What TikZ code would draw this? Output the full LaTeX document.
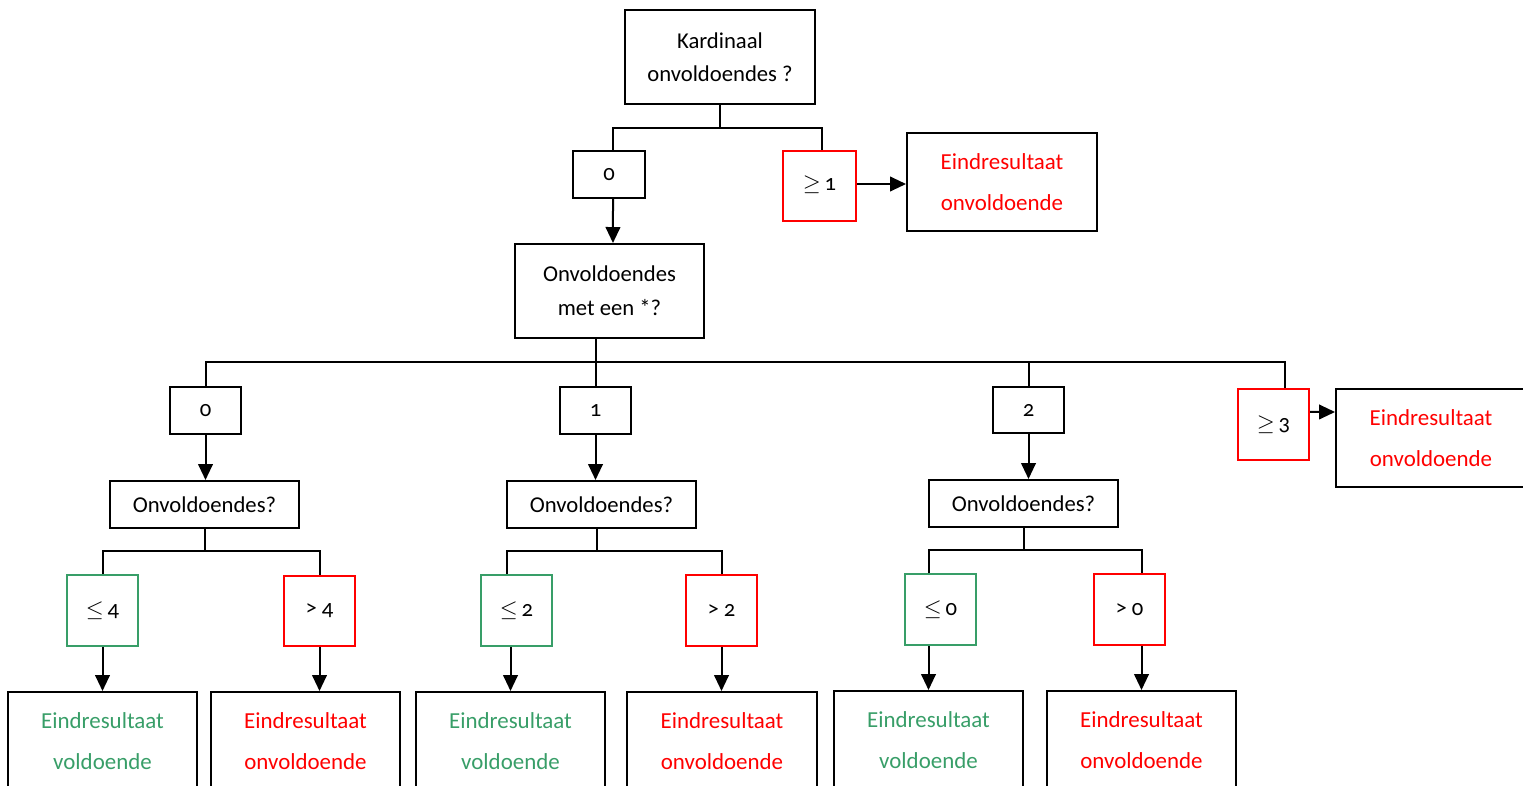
\documentclass[tikz,border=0pt]{standalone}
\usepackage{fontspec}
\setmainfont{Carlito}[Numbers=OldStyle]
\usetikzlibrary{arrows.meta,calc}
\definecolor{okgreen}{RGB}{56,158,104}
\definecolor{badred}{RGB}{255,0,0}
\begin{document}
\begin{tikzpicture}[x=0.75pt,y=-0.75pt,
  sz/.style 2 args={minimum width=#1*0.75pt,minimum height=#2*0.75pt},
  box/.style={draw=black,line width=1.5pt,inner sep=0pt,align=center,
    font=\fontsize{17}{25}\selectfont},
  ebox/.style={box,font=\fontsize{17.2}{30.75}\selectfont},
  rbox/.style={box,draw=badred},
  gbox/.style={box,draw=okgreen},
  ln/.style={line width=1.5pt,draw=black},
  arr/.style={ln,-{Triangle[length=12pt,width=11pt]}}]
\clip (0,0) rectangle (1523,785);
% row 1
\node[box,sz={190}{94}] (K) at (720,57) {Kardinaal\\onvoldoendes ?};
\node[box,sz={72}{47}] (Z0) at (609,174.5) {0};
\node[rbox,sz={73}{70}] (G1) at (819.5,186) {\raisebox{4pt}{$\geq$\,1}};
\node[ebox,sz={190}{98},text=badred] (E1) at (1002,182) {Eindresultaat\\onvoldoende};
% row 2
\node[box,sz={189}{94},font=\fontsize{17}{25.5}\selectfont] (M) at (609.5,291) {Onvoldoendes\\met een *?};
\node[box,sz={71}{47}] (A0) at (205.5,410.5) {0};
\node[box,sz={71}{47}] (A1) at (595.5,410.5) {1};
\node[box,sz={71}{46}] (A2) at (1028.5,410) {2};
\node[rbox,sz={71}{71}] (A3) at (1273.5,424.5) {$\geq$\,3};
\node[ebox,sz={190}{98},text=badred] (E3) at (1431,438) {Eindresultaat\\onvoldoende};
% row 3
\node[box,sz={189}{47}] (O1) at (204.5,504.5) {Onvoldoendes?};
\node[box,sz={189}{47}] (O2) at (601.5,504.5) {Onvoldoendes?};
\node[box,sz={189}{47}] (O3) at (1023.5,503.5) {Onvoldoendes?};
% row 4
\node[gbox,sz={71}{71}] (B1) at (102.5,610.5) {$\leq$\,4};
\node[rbox,sz={71}{70}] (B2) at (319.5,611) {> 4};
\node[gbox,sz={71}{71}] (B3) at (516.5,610.5) {$\leq$\,2};
\node[rbox,sz={71}{71}] (B4) at (721.5,610.5) {> 2};
\node[gbox,sz={71}{71}] (B5) at (940.5,609.5) {$\leq$\,0};
\node[rbox,sz={71}{71}] (B6) at (1129.5,609.5) {> 0};
% row 5
\node[ebox,sz={189}{98},text=okgreen] (R1) at (102.5,741) {Eindresultaat\\voldoende};
\node[ebox,sz={189}{98},text=badred] (R2) at (305.5,741) {Eindresultaat\\onvoldoende};
\node[ebox,sz={189}{98},text=okgreen] (R3) at (510.5,741) {Eindresultaat\\voldoende};
\node[ebox,sz={190}{98},text=badred] (R4) at (722,741) {Eindresultaat\\onvoldoende};
\node[ebox,sz={189}{98},text=okgreen] (R5) at (928.5,740) {Eindresultaat\\voldoende};
\node[ebox,sz={189}{98},text=badred] (R6) at (1141.5,740) {Eindresultaat\\onvoldoende};
% junction coordinates
\coordinate (h1) at (720,128);
\coordinate (h2r) at (1285,362);
\coordinate (h3) at (0,551);
\coordinate (h4l) at (507,551);
\coordinate (h5) at (0,550);
% connectors row 1
\draw[ln] (K.south) -- (h1);
\draw[ln] ([xshift=3pt]Z0.north) |- (h1) -| ([xshift=2pt]G1.north);
\draw[arr] ([xshift=3pt]Z0.south) -- ([xshift=2.6pt]M.north);
\draw[arr] ([yshift=1.5pt]G1.east) -- ([yshift=-1.5pt]E1.west);
% connectors row 2
\draw[ln] (M.south -| A1.north) -- (A1.north);
\draw[ln] (A0.north) |- (h2r) -- (h2r |- A3.north);
\draw[ln] (A2.north) -- (A2.north |- h2r);
\draw[arr] ([yshift=9.4pt]A3.east) -- ([yshift=19.5pt]E3.west);
\draw[arr] (A0.south) -- (A0.south |- O1.north);
\draw[arr] (A1.south) -- (A1.south |- O2.north);
\draw[arr] (A2.south) -- (A2.south |- O3.north);
% connectors row 3
\draw[ln] (O1.south) -- (O1.south |- h3);
\draw[ln] (B1.north) |- (O1.south |- h3) -| (B2.north);
\draw[ln] ([xshift=-3.4pt]O2.south) -- ([xshift=-3.4pt]O2.south |- h4l);
\draw[ln] (h4l |- B3.north) -- (h4l) -| (B4.north);
\draw[ln] (O3.south) -- (O3.south |- h5);
\draw[ln] (B5.north -| R5.north) |- (O3.south |- h5) -| (B6.north -| R6.north);
% connectors row 4
\draw[arr] (B1.south) -- (B1.south |- R1.north);
\draw[arr] (B2.south) -- (B2.south |- R2.north);
\draw[arr] (B3.south -| R3.north) -- (R3.north);
\draw[arr] (B4.south) -- (B4.south |- R4.north);
\draw[arr] (B5.south -| R5.north) -- (R5.north);
\draw[arr] (B6.south -| R6.north) -- (R6.north);
\end{tikzpicture}
\end{document}
